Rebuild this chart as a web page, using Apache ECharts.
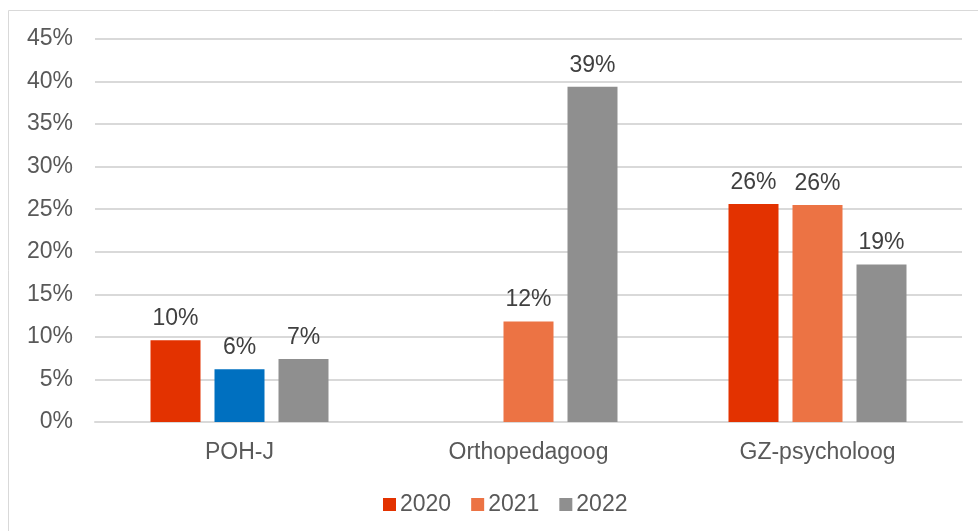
<!DOCTYPE html>
<html>
<head>
<meta charset="utf-8">
<script src="https://cdn.jsdelivr.net/npm/echarts@6/dist/echarts.min.js"></script>
<style>
  html, body { margin: 0; padding: 0; background: #fff; }
  #chart { width: 978px; height: 531px; }
</style>
</head>
<body>
<div id="chart"></div>
<script>
const categories = ['POH-J', 'Orthopedagoog', 'GZ-psycholoog'];
const years = ['2020', '2021', '2022'];
const values2020 = [9.6, null, 25.6];
const values2021 = [6.2, 11.8, 25.5];
const values2022 = [7.4, 39.4, 18.5];
const yTicks = [0, 5, 10, 15, 20, 25, 30, 35, 40, 45];

const colors = ['#E33200', '#EC7344', '#8F8F8F'];
const blue = '#0070C0';

const chart = echarts.init(document.getElementById('chart'));

function makeSeries(name, values, color) {
  return {
    name: name,
    type: 'bar',
    barWidth: 50,
    barGap: '28%',
    itemStyle: { color: color },
    label: {
      show: true,
      position: 'top',
      distance: 10,
      color: '#404040',
      fontSize: 23,
      fontFamily: 'Liberation Sans',
      formatter: function (p) { return Math.round(p.value) + '%'; }
    },
    data: values.map(function (v) { return v === null ? '-' : v; })
  };
}

const s2021 = makeSeries(years[1], values2021, colors[1]);
// POH-J 2021 bar is drawn in blue in the original
s2021.data[0] = { value: values2021[0], itemStyle: { color: blue } };

const option = {
  animation: false,
  color: colors,
  graphic: [
    {
      type: 'polyline',
      shape: { points: [[8.5, 531], [8.5, 10.5], [978, 10.5]] },
      style: { stroke: '#D9D9D9', lineWidth: 1, fill: null }
    }
  ],
  grid: { left: 95, right: 16, top: 39, bottom: 109 },
  legend: {
    bottom: 10,
    left: 378,
    itemWidth: 13,
    itemHeight: 13,
    itemGap: 20,
    icon: 'rect',
    textStyle: { color: '#595959', fontSize: 23, fontFamily: 'Liberation Sans', padding: [0, 0, 0, -1] },
    data: years
  },
  xAxis: {
    type: 'category',
    data: categories,
    axisLine: { lineStyle: { color: '#D9D9D9', width: 2 } },
    axisTick: { show: false },
    axisLabel: { color: '#595959', fontSize: 23, fontFamily: 'Liberation Sans', margin: 19 }
  },
  yAxis: {
    type: 'value',
    min: yTicks[0],
    max: yTicks[yTicks.length - 1],
    interval: 5,
    axisLine: { show: false },
    axisTick: { show: false },
    axisLabel: {
      color: '#595959', fontSize: 23, fontFamily: 'Liberation Sans', margin: 22,
      formatter: '{value}%'
    },
    splitLine: { lineStyle: { color: '#D9D9D9', width: 2 } }
  },
  series: [
    makeSeries(years[0], values2020, colors[0]),
    s2021,
    makeSeries(years[2], values2022, colors[2])
  ]
};

chart.setOption(option);
</script>
</body>
</html>
